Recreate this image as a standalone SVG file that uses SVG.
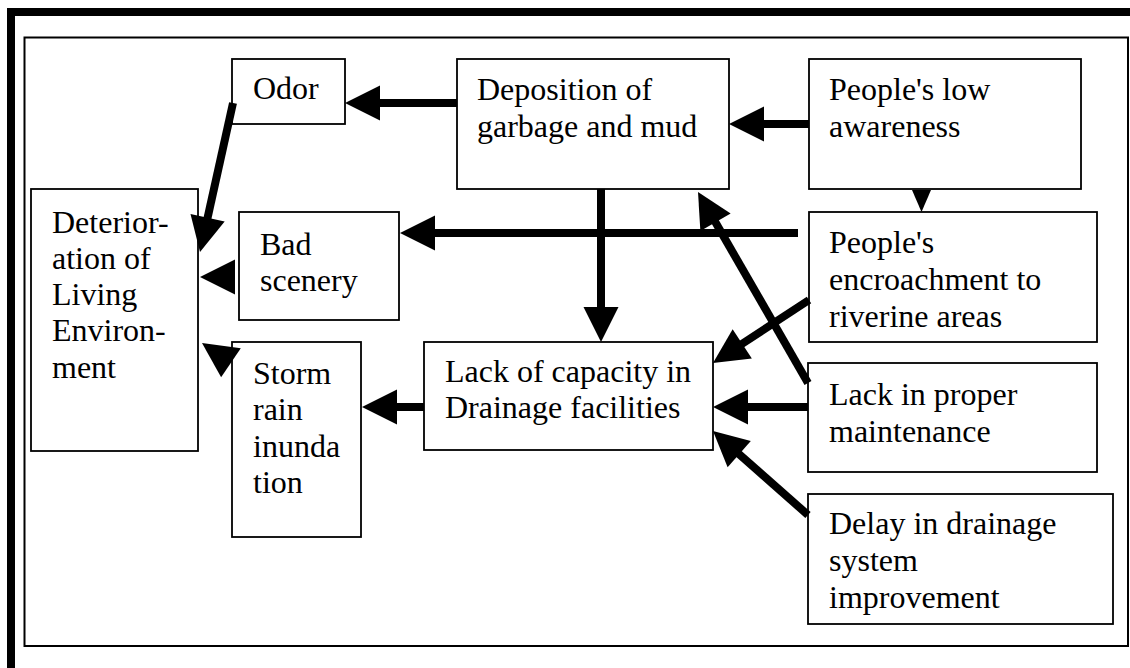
<svg xmlns="http://www.w3.org/2000/svg" xmlns:xlink="http://www.w3.org/1999/xlink" width="1130" height="668" viewBox="0 0 1130 668">
<style>
.box{fill:#fff;stroke:#000;stroke-width:1.8}
.t{font-family:"Liberation Serif","Times New Roman",serif;font-size:32px;fill:#000}
.ln{stroke:#000;stroke-width:8;fill:none}
.ah{fill:#000}
</style>
<defs>
<path id="ah" d="M0,0 L-35,-17.5 L-35,17.5 Z"/>
</defs>
<rect x="0" y="0" width="1130" height="668" fill="#fff"/>
<path d="M11,668 V12 H1130" fill="none" stroke="#000" stroke-width="8"/>
<rect x="24.5" y="37.5" width="1103.5" height="608.5" fill="none" stroke="#000" stroke-width="2"/>

<g id="n-deterioration">
<rect class="box" x="31" y="189" width="167" height="262"/>
<text class="t" x="52"><tspan x="52" y="233">Deterior-</tspan><tspan x="52" y="269">ation of</tspan><tspan x="52" y="305">Living</tspan><tspan x="52" y="341">Environ-</tspan><tspan x="52" y="378">ment</tspan></text>
</g>
<g id="n-odor">
<rect class="box" x="232" y="59" width="113" height="65"/>
<text class="t" x="253" y="99">Odor</text>
</g>
<g id="n-deposition">
<rect class="box" x="457" y="59" width="272" height="130"/>
<text class="t"><tspan x="477" y="100">Deposition of</tspan><tspan x="477" y="137">garbage and mud</tspan></text>
</g>
<g id="n-awareness">
<rect class="box" x="809" y="59" width="272" height="130"/>
<text class="t"><tspan x="829" y="100">People's low</tspan><tspan x="829" y="137">awareness</tspan></text>
</g>
<g id="n-badscenery">
<rect class="box" x="239" y="212" width="160" height="108"/>
<text class="t"><tspan x="260" y="255">Bad</tspan><tspan x="260" y="291">scenery</tspan></text>
</g>
<g id="n-encroachment">
<rect class="box" x="809" y="212" width="288" height="130"/>
<text class="t"><tspan x="829" y="253">People's</tspan><tspan x="829" y="290">encroachment to</tspan><tspan x="829" y="327">riverine areas</tspan></text>
</g>
<g id="n-storm">
<rect class="box" x="232" y="342" width="129" height="195"/>
<text class="t"><tspan x="253" y="384">Storm</tspan><tspan x="253" y="420">rain</tspan><tspan x="253" y="457">inunda</tspan><tspan x="253" y="493">tion</tspan></text>
</g>
<g id="n-capacity">
<rect class="box" x="424" y="342" width="289" height="108"/>
<text class="t"><tspan x="445" y="382">Lack of capacity in</tspan><tspan x="445" y="418">Drainage facilities</tspan></text>
</g>
<g id="n-maintenance">
<rect class="box" x="808" y="363" width="289" height="109"/>
<text class="t"><tspan x="829" y="405">Lack in proper</tspan><tspan x="829" y="442">maintenance</tspan></text>
</g>
<g id="n-delay">
<rect class="box" x="808" y="494" width="305" height="130"/>
<text class="t"><tspan x="829" y="534">Delay in drainage</tspan><tspan x="829" y="571">system</tspan><tspan x="829" y="608">improvement</tspan></text>
</g>

<g id="connectors">
<line class="ln" x1="457" y1="103" x2="375" y2="103"/>
<use xlink:href="#ah" href="#ah" class="ah" transform="translate(345,103) rotate(180)"/>
<line class="ln" x1="809" y1="124" x2="760" y2="124"/>
<use xlink:href="#ah" href="#ah" class="ah" transform="translate(729,124) rotate(180)"/>
<polygon class="ah" points="912,190 931,190 921.5,212"/>
<line class="ln" x1="798" y1="233" x2="430" y2="233"/>
<use xlink:href="#ah" href="#ah" class="ah" transform="translate(400,233) rotate(180)"/>
<line class="ln" x1="601" y1="189" x2="601" y2="312"/>
<use xlink:href="#ah" href="#ah" class="ah" transform="translate(601,342) rotate(90)"/>
<line class="ln" x1="808" y1="383" x2="713" y2="218"/>
<use xlink:href="#ah" href="#ah" class="ah" transform="translate(698,192) rotate(-120)"/>
<line class="ln" x1="809" y1="300" x2="738" y2="346.5"/>
<use xlink:href="#ah" href="#ah" class="ah" transform="translate(713,363) rotate(146.7)"/>
<line class="ln" x1="808" y1="407" x2="743" y2="407"/>
<use xlink:href="#ah" href="#ah" class="ah" transform="translate(713,407) rotate(180)"/>
<line class="ln" x1="808" y1="515" x2="735.5" y2="451"/>
<use xlink:href="#ah" href="#ah" class="ah" transform="translate(713,431) rotate(-138.5)"/>
<line class="ln" x1="424" y1="407" x2="392" y2="407"/>
<use xlink:href="#ah" href="#ah" class="ah" transform="translate(362,407) rotate(180)"/>
<line class="ln" x1="233" y1="103" x2="206.5" y2="222.7"/>
<use xlink:href="#ah" href="#ah" class="ah" transform="translate(200,252) rotate(102.5)"/>
<use xlink:href="#ah" href="#ah" class="ah" transform="translate(200,277) rotate(180)"/>
<use xlink:href="#ah" href="#ah" class="ah" transform="translate(202,343) rotate(-145.8)"/>
</g>
</svg>
